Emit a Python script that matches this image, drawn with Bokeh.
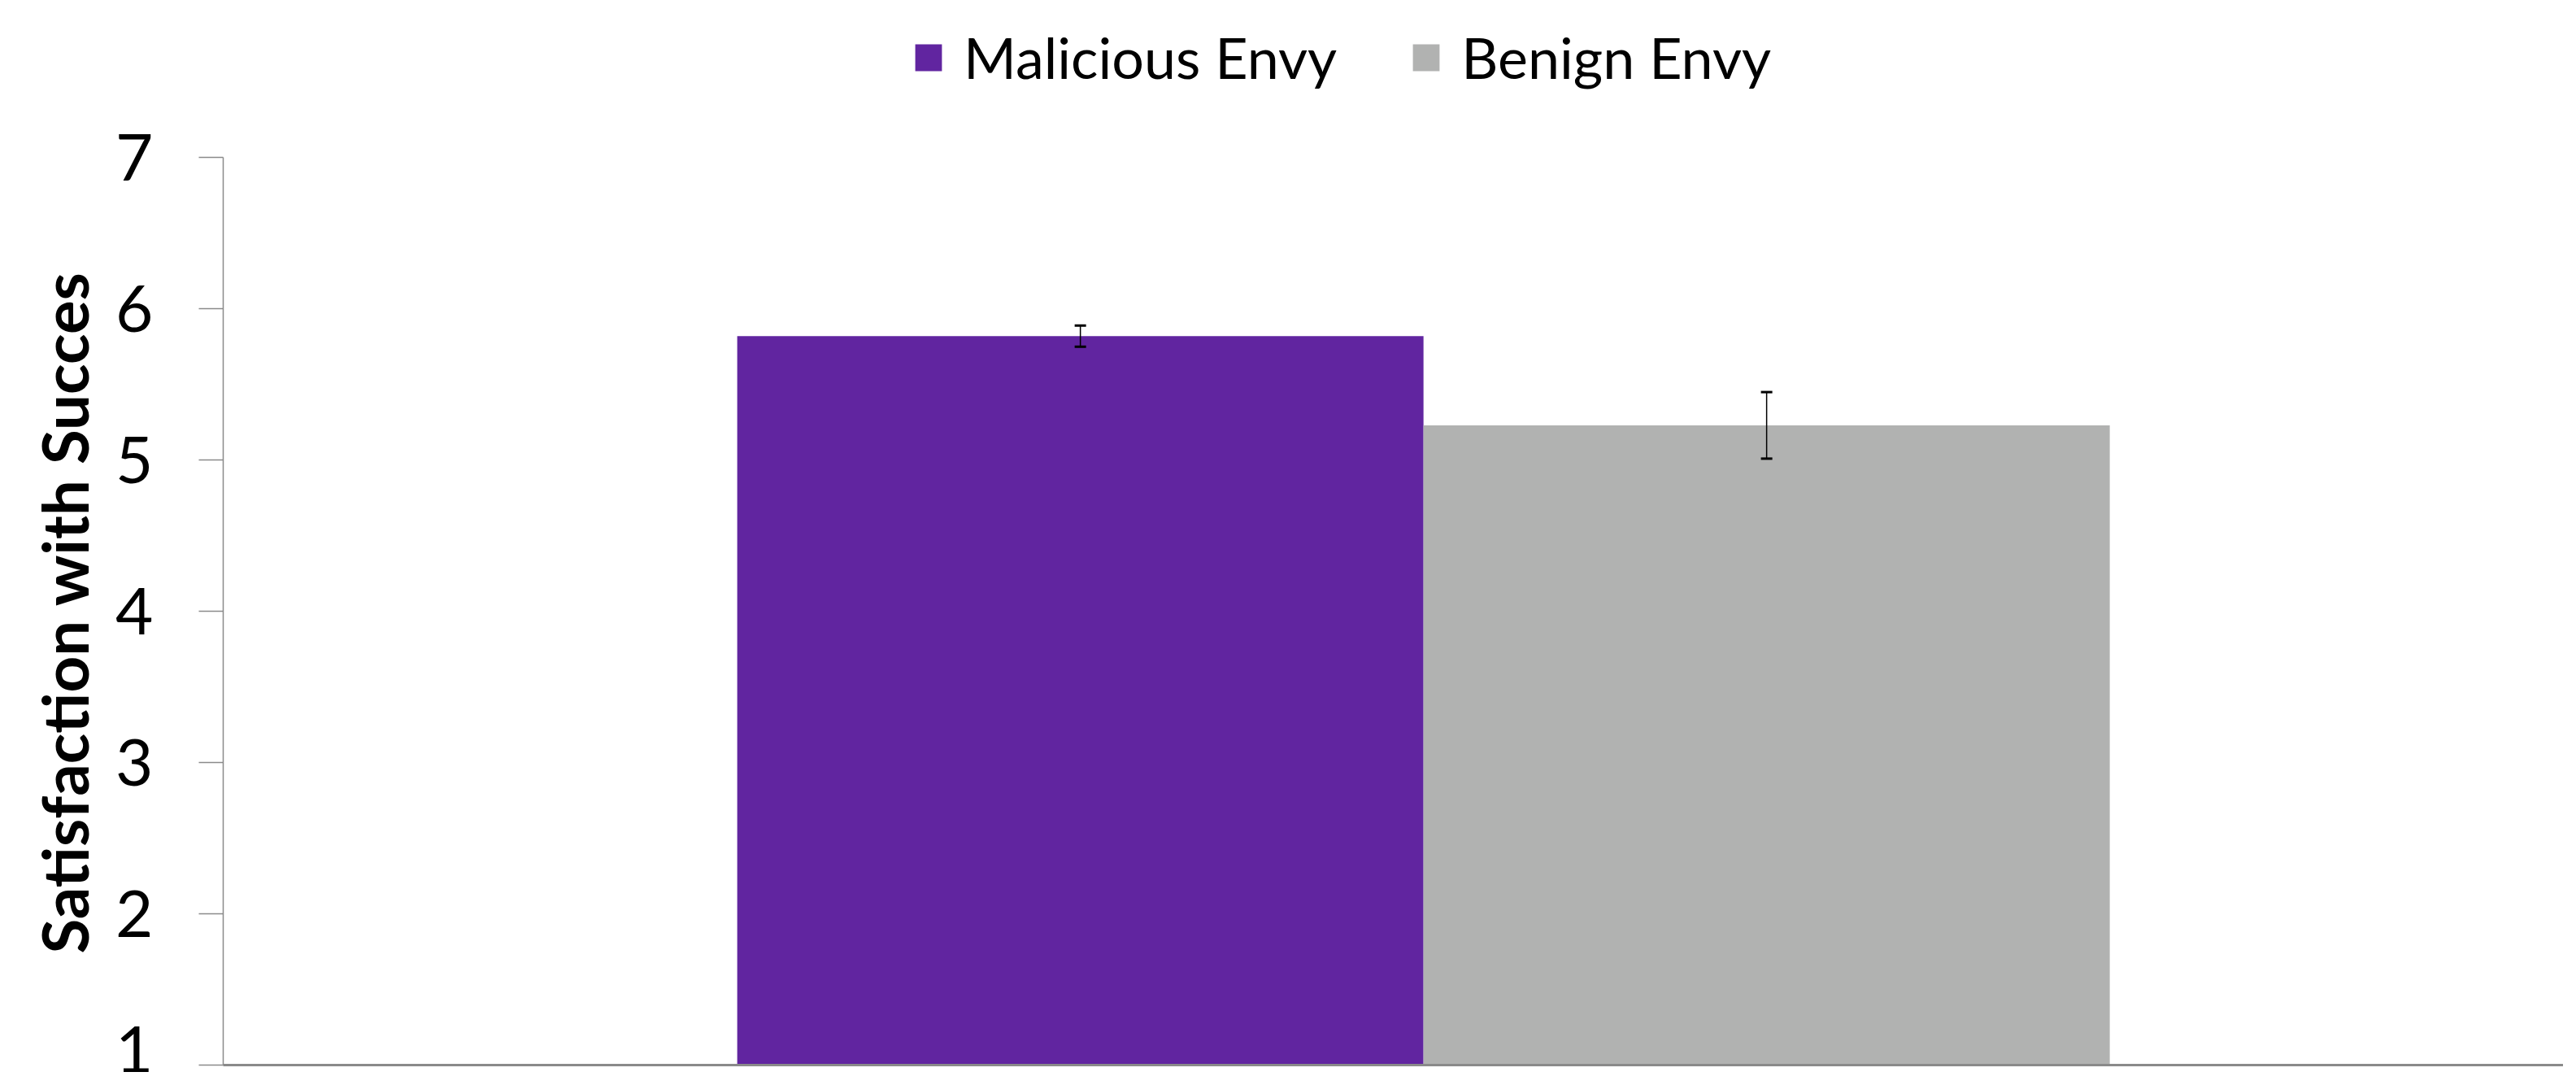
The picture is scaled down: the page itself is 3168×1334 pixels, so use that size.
from bokeh.plotting import figure
from bokeh.models import Range1d, ColumnDataSource, Legend, LegendItem, Whisker, TeeHead, FixedTicker, Title
from bokeh.embed import file_html
from bokeh.resources import INLINE

# ---- data ----
groups = ["Malicious Envy", "Benign Envy"]
means = [5.82, 5.23]
errors = [0.07, 0.22]
colors = ["#6125A0", "#B1B2B1"]
y_ticks = [1, 2, 3, 4, 5, 6, 7]
y_label = "Satisfaction with Succes"

offsets = [-0.5, 0.5]
src = ColumnDataSource(dict(
    x=offsets,
    lower=[m - e for m, e in zip(means, errors)],
    upper=[m + e for m, e in zip(means, errors)],
))

p = figure(width=3152, height=1318, output_backend="svg", toolbar_location=None,
           x_range=Range1d(-1.749, 1.661), y_range=Range1d(y_ticks[0], 8.04),
           min_border_left=274, min_border_right=0, min_border_top=0, min_border_bottom=9)
p.outline_line_color = None
p.xgrid.visible = False
p.ygrid.visible = False

renderers = []
for i, g in enumerate(groups):
    r = p.vbar(x=offsets[i], top=means[i], bottom=y_ticks[0], width=1.0,
               fill_color=colors[i], line_color=None)
    renderers.append(r)

w = Whisker(base="x", lower="lower", upper="upper", source=src, level="overlay",
            line_color="black", line_width=1.5,
            upper_head=TeeHead(size=14, line_color="black", line_width=3),
            lower_head=TeeHead(size=14, line_color="black", line_width=3))
p.add_layout(w)

# axes
p.xaxis.major_tick_line_color = None
p.xaxis.minor_tick_line_color = None
p.xaxis.major_label_text_font_size = "0px"
p.xaxis.major_label_standoff = 0
p.xaxis.axis_line_color = "#8A8A8A"
p.xaxis.axis_line_width = 3

p.yaxis.ticker = FixedTicker(ticks=y_ticks)
p.yaxis.bounds = (y_ticks[0], y_ticks[-1])
p.yaxis.axis_line_color = "#8A8A8A"
p.yaxis.axis_line_width = 1.5
p.yaxis.major_tick_line_color = "#8A8A8A"
p.yaxis.major_tick_line_width = 1.5
p.yaxis.major_tick_out = 30
p.yaxis.major_tick_in = 0
p.yaxis.minor_tick_line_color = None
p.yaxis.major_label_text_font = "Lato"
p.yaxis.major_label_text_font_size = "80px"
p.yaxis.major_label_text_color = "black"
p.yaxis.major_label_standoff = 56

ytitle = Title(text=y_label, align="left", offset=137, standoff=28,
               text_font="Lato", text_font_style="bold", text_font_size="78px",
               text_color="black")
p.add_layout(ytitle, "left")

legend = Legend(items=[LegendItem(label=groups[i], renderers=[renderers[i]]) for i in range(2)],
                orientation="horizontal", location=(847, 1197),
                border_line_color=None, background_fill_alpha=0,
                padding=0, margin=0, spacing=89, label_standoff=23,
                glyph_width=41, glyph_height=41,
                label_text_font="Lato", label_text_font_size="70px",
                label_text_color="black")
p.add_layout(legend, "center")

open("out.html", "w").write(file_html(p, INLINE))
